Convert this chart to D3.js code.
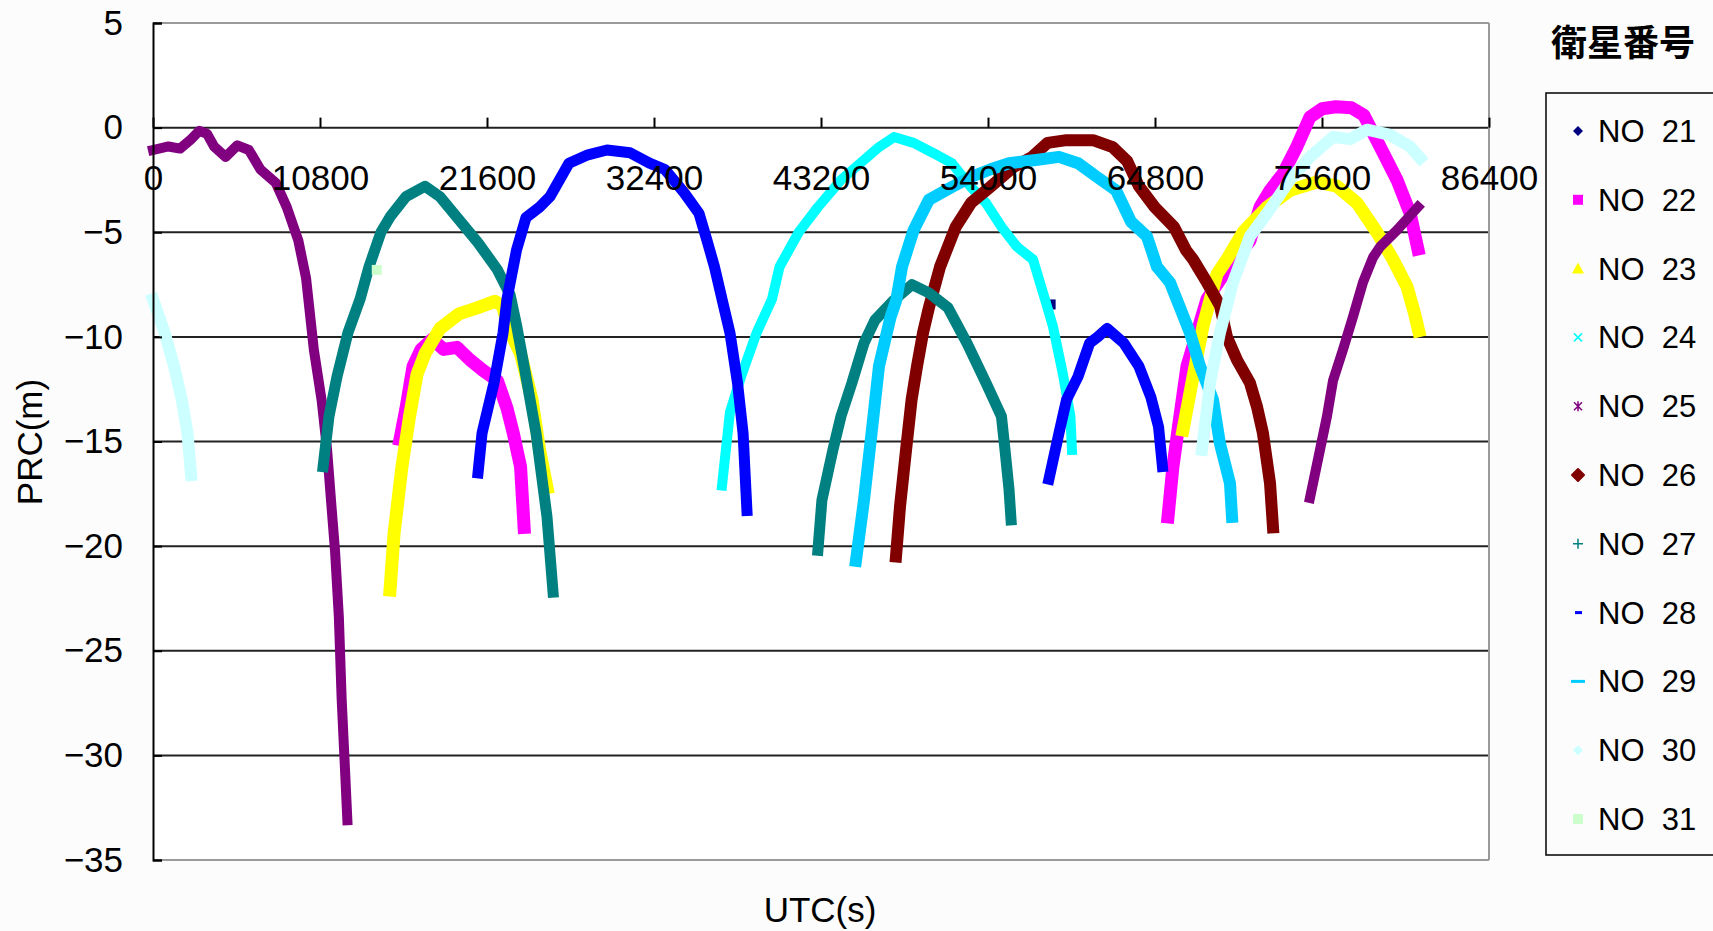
<!DOCTYPE html>
<html>
<head>
<meta charset="utf-8">
<script src="https://cdn.jsdelivr.net/npm/d3@7"></script>
<style>
html,body{margin:0;padding:0;background:#fcfcfc;}
svg{display:block;}
text{font-family:"Liberation Sans",Arial,sans-serif;fill:#000;}
</style>
</head>
<body>
<svg id="chart" width="1713" height="931"></svg>
<script>
// ---------- data (UTC seconds, PRC metres) ----------
const seriesNames = ["NO 21","NO 22","NO 23","NO 24","NO 25","NO 26","NO 27","NO 28","NO 29","NO 30","NO 31"];
const xTicks = [0,10800,21600,32400,43200,54000,64800,75600,86400];
const yTicks = [5,0,-5,-10,-15,-20,-25,-30,-35];

const NO21 = [[[58050,-8.45]]];
const NO22 = [
  [[15970,-14.9],[16340,-13.5],[16820,-11.4],[17330,-10.6],[18070,-10.1],[18800,-10.6],[19660,-10.5],[20500,-11.1],[21340,-11.6],[22280,-12.1],[22890,-13.4],[23300,-14.6],[23770,-16.2],[24000,-19.1]],
  [[65640,-18.6],[65960,-16.2],[66410,-13.8],[66870,-11.4],[67520,-9.8],[68160,-8.2],[69450,-6.8],[70940,-5.4],[71590,-3.8],[72240,-3.0],[73080,-2.2],[73980,-0.9],[74820,0.5],[75600,0.9],[76500,1.0],[77500,0.95],[78300,0.6],[79350,-0.9],[80450,-2.5],[81300,-4.1],[81800,-5.8]]
];
const NO23 = [
  [[15330,-22.1],[15590,-19.4],[16100,-16.2],[16590,-13.8],[17070,-11.8],[17590,-10.8],[18560,-9.6],[19790,-8.9],[21020,-8.6],[22100,-8.3],[22600,-8.5],[23000,-9.6],[23770,-10.8],[24510,-13.0],[25000,-15.4],[25480,-17.2]],
  [[66610,-14.45],[67260,-11.9],[67900,-9.5],[68810,-7.0],[69450,-6.3],[70490,-5.0],[72040,-3.8],[73530,-3.0],[75270,-2.6],[76570,-2.8],[77860,-3.6],[79150,-5.0],[80190,-6.3],[81100,-7.6],[81590,-8.9],[81850,-9.7]]
];
const NO24 = [
  [[36800,-17.1],[37310,-13.6],[38030,-11.9],[39040,-9.8],[40030,-8.2],[40520,-6.65],[41760,-5.0],[43000,-3.8],[44490,-2.5],[45980,-1.55],[46950,-0.93],[47920,-0.45],[49190,-0.73],[50420,-1.2],[51660,-1.7],[52900,-2.84],[53870,-3.6],[54880,-4.75],[55880,-5.7],[56910,-6.3],[57560,-7.9],[58200,-9.5],[58850,-11.8],[59330,-13.8],[59430,-15.4]]
];
const NO25 = [
  [[0,-1.07],[1000,-0.9],[1750,-1.0],[2400,-0.6],[3000,-0.15],[3500,-0.3],[3950,-0.9],[4700,-1.4],[5450,-0.85],[6200,-1.07],[6950,-2.0],[7950,-2.65],[8650,-3.8],[9400,-5.4],[9900,-7.2],[10400,-10.6],[10900,-13.0],[11260,-15.4],[11510,-17.8],[11770,-20.2],[12020,-23.4],[12200,-27.3],[12380,-30.1],[12570,-33.1]],
  [[74820,-17.7],[75470,-15.4],[75920,-13.8],[76310,-12.1],[76960,-10.6],[77600,-9.05],[78250,-7.4],[78900,-6.2],[79350,-5.7],[80450,-4.9],[81300,-4.2],[81800,-3.8]]
];
const NO26 = [
  [[48050,-20.5],[48310,-18.1],[48700,-15.4],[49060,-13.0],[49410,-11.4],[49800,-9.8],[50180,-8.6],[50900,-6.65],[51910,-4.75],[52900,-3.6],[54130,-2.84],[55620,-1.9],[56850,-1.4],[57850,-0.73],[59080,-0.6],[60790,-0.6],[62060,-0.93],[63000,-1.6],[63760,-2.8],[64780,-3.8],[66030,-4.75],[66800,-5.85],[67260,-6.3],[68160,-7.4],[69000,-8.5],[69450,-10.0],[70100,-11.1],[70940,-12.2],[71400,-13.35],[71780,-14.6],[72240,-17.0],[72430,-19.1]]
];
const NO27 = [
  [[11000,-16.2],[11380,-13.8],[11900,-11.9],[12610,-9.8],[13390,-8.2],[13970,-6.65],[14740,-5.0],[15330,-4.27],[16360,-3.3],[17590,-2.8],[18560,-3.3],[19790,-4.4],[21020,-5.5],[22280,-6.8],[23100,-8.0],[23500,-9.4],[24000,-11.4],[24770,-14.6],[25480,-18.6],[25870,-22.2]],
  [[43000,-20.2],[43260,-17.8],[43970,-15.4],[44490,-13.8],[45200,-12.2],[45980,-10.3],[46690,-9.2],[47920,-8.24],[49085,-7.5],[50180,-7.9],[51410,-8.6],[52640,-10.3],[53870,-12.2],[54870,-13.8],[55100,-15.4],[55360,-17.3],[55490,-18.75]]
];
const NO28 = [
  [[21020,-16.5],[21280,-14.6],[22050,-12.2],[22640,-9.8],[22890,-8.2],[23510,-5.85],[24120,-4.3],[25000,-3.8],[25670,-3.3],[26900,-1.7],[28130,-1.3],[29360,-1.07],[30850,-1.2],[32110,-1.7],[33110,-2.0],[34340,-3.1],[35310,-4.1],[35830,-5.4],[36310,-6.65],[36800,-8.2],[37310,-9.8],[37800,-12.2],[38160,-14.6],[38410,-18.3]],
  [[57940,-16.8],[58590,-14.6],[59080,-13.0],[59820,-11.9],[60570,-10.3],[61100,-10.0],[61700,-9.6],[62790,-10.3],[63760,-11.4],[64540,-12.9],[65030,-14.3],[65280,-16.2]]
];
const NO29 = [
  [[45460,-20.7],[45980,-17.8],[46470,-14.6],[46950,-11.4],[47700,-9.05],[48070,-8.24],[48440,-6.65],[49190,-4.9],[50180,-3.45],[51660,-2.84],[52900,-2.36],[54130,-2.0],[55360,-1.7],[57100,-1.55],[58590,-1.4],[59820,-1.7],[61050,-2.36],[62280,-3.0],[63250,-4.5],[64280,-5.2],[64930,-6.65],[65770,-7.4],[66220,-8.24],[67060,-9.8],[67710,-11.4],[68550,-13.0],[69000,-15.1],[69650,-17.0],[69780,-18.6]]
];
const NO30 = [
  [[0,-8.2],[750,-9.8],[1360,-11.4],[1860,-13.0],[2230,-14.6],[2460,-16.6]],
  [[67840,-15.4],[68360,-12.2],[69000,-9.8],[69840,-7.4],[70940,-5.2],[72040,-4.1],[73530,-2.5],[74820,-1.4],[76310,-0.45],[77410,-0.55],[78510,-0.1],[80000,-0.35],[81290,-0.9],[81940,-1.45]]
];
const NO31 = [[[14470,-6.8]]];

const seriesData = [NO21,NO22,NO23,NO24,NO25,NO26,NO27,NO28,NO29,NO30,NO31];
const colors = ["#000080","#FF00FF","#FFFF00","#00FFFF","#800080","#800000","#008080","#0000FF","#00CCFF","#CCFFFF","#CCFFCC"];
const widths = [10,13,13,10,10,12,11,11,12,12,11];
const markerTypes = ["diamond","square","triangle","x","star","circle","plus","dash","longdash","diamond","square"];

// ---------- layout ----------
const W = 1713, H = 931;
const plot = {left:153, right:1489, top:23, bottom:860};
const svg = d3.select("#chart");
svg.append("rect").attr("width",W).attr("height",H).attr("fill","#fcfcfc");
svg.append("rect").attr("x",plot.left).attr("y",plot.top)
  .attr("width",plot.right-plot.left).attr("height",plot.bottom-plot.top).attr("fill","#ffffff");

const x = d3.scaleLinear().domain([0,86400]).range([plot.left,plot.right]);
const y = d3.scaleLinear().domain([-35,5]).range([plot.bottom,plot.top]);

// gridlines
const grid = svg.append("g");
grid.selectAll("line").data(yTicks).join("line")
  .attr("x1",plot.left).attr("x2",plot.right)
  .attr("y1",d=>y(d)).attr("y2",d=>y(d))
  .attr("stroke",d=>(d===5||d===-35)?"#9a9a9a":"#222")
  .attr("stroke-width",2);
// right border
svg.append("line").attr("x1",plot.right).attr("x2",plot.right).attr("y1",plot.top).attr("y2",plot.bottom)
  .attr("stroke","#9a9a9a").attr("stroke-width",2);

// series
const line = d3.line().x(d=>x(d[0])).y(d=>y(d[1])).curve(d3.curveLinear);
const sg = svg.append("g");
seriesData.forEach((segs,i)=>{
  segs.forEach(seg=>{
    if(seg.length>1){
      sg.append("path").datum(seg).attr("d",line)
        .attr("fill","none").attr("stroke",colors[i]).attr("stroke-width",widths[i])
        .attr("stroke-linejoin","round").attr("stroke-linecap","square");
    } else {
      sg.append("rect").datum(seg[0])
        .attr("x",d=>x(d[0])-5).attr("y",d=>y(d[1])-5).attr("width",10).attr("height",10)
        .attr("fill",colors[i]);
    }
  });
});

// left axis
const yAxis = d3.axisLeft(y).tickValues(yTicks).tickSize(-9).tickPadding(30)
  .tickFormat(d=>d<0?"\u2212"+Math.abs(d):String(d));
const gy = svg.append("g").attr("transform",`translate(${plot.left},0)`).call(yAxis);
gy.select(".domain").attr("stroke","#000").attr("stroke-width",2);
gy.selectAll(".tick line").attr("stroke","#000").attr("stroke-width",2);
gy.selectAll("text").style("font-size","35px").attr("font-family",null);

// x axis at y=0
const xAxis = d3.axisBottom(x).tickValues(xTicks).tickSize(-10).tickPadding(38).tickFormat(d=>String(d));
const gx = svg.append("g").attr("transform",`translate(0,${y(0)})`).call(xAxis);
gx.select(".domain").remove();
gx.selectAll(".tick line").attr("stroke","#000").attr("stroke-width",2);
gx.selectAll("text").style("font-size","35px").attr("font-family",null);

// axis titles
svg.append("text").attr("transform",`translate(42,442) rotate(-90)`).attr("text-anchor","middle")
  .style("font-size","35px").text("PRC(m)");
svg.append("text").attr("x",820).attr("y",922).attr("text-anchor","middle")
  .style("font-size","35px").text("UTC(s)");

// legend
svg.append("text").attr("x",1551).attr("y",56)
  .style("font-family","'Noto Sans CJK JP',sans-serif").style("font-size","36px").style("font-weight","bold").text("衛星番号");
svg.append("rect").attr("x",1546).attr("y",93).attr("width",200).attr("height",762)
  .attr("fill","none").attr("stroke","#000").attr("stroke-width",1.5);

const lg = svg.append("g");
seriesNames.forEach((name,i)=>{
  const cy = 131 + i*68.8, cx = 1578, c = colors[i];
  const g = lg.append("g");
  const t = markerTypes[i];
  if(t==="diamond") g.append("path").attr("d",`M${cx},${cy-5}L${cx+5},${cy}L${cx},${cy+5}L${cx-5},${cy}Z`).attr("fill",c);
  else if(t==="square") g.append("rect").attr("x",cx-5).attr("y",cy-5).attr("width",10).attr("height",10).attr("fill",c);
  else if(t==="triangle") g.append("path").attr("d",`M${cx},${cy-6}L${cx+6},${cy+5}L${cx-6},${cy+5}Z`).attr("fill",c);
  else if(t==="x") g.append("path").attr("d",`M${cx-4},${cy-4}L${cx+4},${cy+4}M${cx+4},${cy-4}L${cx-4},${cy+4}`).attr("stroke",c).attr("stroke-width",1.5);
  else if(t==="star") g.append("path").attr("d",`M${cx-4},${cy-4}L${cx+4},${cy+4}M${cx+4},${cy-4}L${cx-4},${cy+4}M${cx},${cy-5}L${cx},${cy+5}`).attr("stroke",c).attr("stroke-width",1.5);
  else if(t==="circle") g.append("path").attr("d",`M${cx},${cy-6}L${cx+6},${cy}L${cx},${cy+6}L${cx-6},${cy}Z`).attr("fill",c).attr("stroke",c).attr("stroke-linejoin","round").attr("stroke-width",2);
  else if(t==="plus") g.append("path").attr("d",`M${cx-5},${cy}L${cx+5},${cy}M${cx},${cy-5}L${cx},${cy+5}`).attr("stroke",c).attr("stroke-width",1.5);
  else if(t==="dash") g.append("rect").attr("x",cx-3).attr("y",cy-1.5).attr("width",7).attr("height",3).attr("fill",c);
  else if(t==="longdash") g.append("rect").attr("x",cx-7).attr("y",cy-1.5).attr("width",14).attr("height",3).attr("fill",c);
  lg.append("text").attr("x",1598).attr("y",cy+11).style("font-size","31px").style("white-space","pre").text(name.replace(" ","  "));
});
</script>
</body>
</html>
